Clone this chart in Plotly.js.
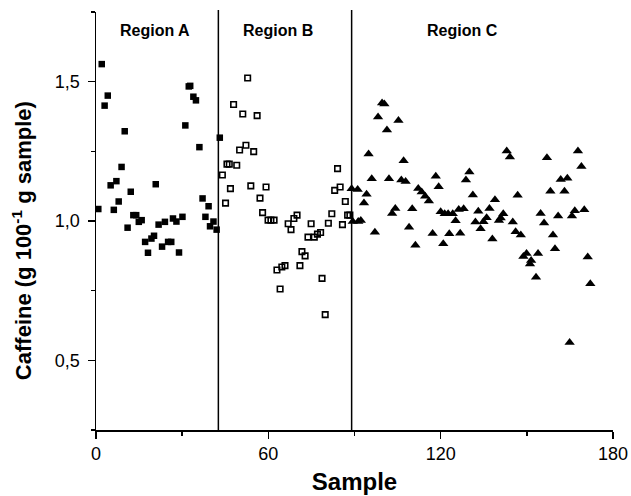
<!DOCTYPE html>
<html>
<head>
<meta charset="utf-8">
<script src="https://cdn.plot.ly/plotly-3.0.1.min.js"></script>
<style>html,body{margin:0;padding:0;background:#fff;}#chart{width:631px;height:496px;}</style>
</head>
<body>
<div id="chart"></div>
<script>
// Region A (filled squares)
const regionA_x = [0.8, 2.0, 3.0, 4.1, 5.1, 6.2, 7.1, 7.9, 8.9, 10.0, 11.0, 12.1, 13.0, 14.0, 14.9, 15.9, 17.1, 18.1, 19.3, 20.2, 20.8, 21.8, 23.0, 24.0, 25.1, 26.2, 26.8, 28.0, 28.9, 30.1, 31.1, 32.3, 32.8, 33.9, 34.8, 36.0, 37.1, 38.1, 39.2, 39.7, 40.9, 42.0, 43.1];
const regionA_y = [1.043, 1.563, 1.414, 1.450, 1.128, 1.040, 1.143, 1.070, 1.194, 1.322, 0.976, 1.105, 1.021, 1.021, 0.997, 1.003, 0.925, 0.886, 0.937, 0.947, 1.132, 0.987, 0.908, 0.997, 0.925, 0.925, 1.009, 0.998, 0.887, 1.015, 1.343, 1.483, 1.485, 1.446, 1.433, 1.265, 1.081, 1.015, 1.053, 0.981, 0.998, 0.969, 1.299];

// Region B (open squares)
const regionB_x = [44.0, 45.1, 45.6, 46.4, 46.8, 47.9, 49.0, 50.0, 51.1, 52.2, 52.8, 53.9, 54.9, 56.1, 57.1, 58.0, 59.2, 59.9, 60.9, 62.0, 63.0, 64.1, 64.7, 65.8, 66.9, 67.9, 68.9, 70.0, 71.0, 71.7, 72.8, 73.8, 74.9, 76.0, 77.1, 78.2, 78.7, 79.8, 80.9, 82.1, 83.1, 84.1, 85.0, 85.8, 86.8, 87.6, 88.4];
const regionB_y = [1.165, 1.064, 1.204, 1.204, 1.116, 1.418, 1.200, 1.255, 1.384, 1.272, 1.513, 1.126, 1.249, 1.378, 1.082, 1.030, 1.122, 1.003, 1.003, 1.003, 0.824, 0.756, 0.835, 0.840, 0.990, 0.969, 1.009, 1.021, 0.840, 0.890, 0.875, 0.942, 0.990, 0.942, 0.953, 0.959, 0.794, 0.664, 0.992, 1.026, 1.110, 1.188, 1.122, 0.987, 1.070, 1.021, 1.021];

// Region C (filled triangles)
const regionC_x = [89.0, 89.4, 91.1, 91.3, 92.2, 93.3, 94.2, 94.9, 96.0, 97.1, 98.2, 99.6, 100.4, 101.3, 102.0, 103.1, 104.2, 105.3, 106.3, 107.1, 107.8, 109.0, 110.1, 111.2, 112.2, 113.4, 114.6, 115.9, 117.2, 118.3, 119.3, 120.0, 120.9, 121.4, 122.6, 123.0, 124.2, 125.2, 126.3, 126.8, 128.0, 128.8, 130.0, 131.2, 132.1, 133.1, 133.9, 134.9, 136.0, 137.0, 138.0, 138.9, 140.3, 140.9, 141.8, 143.0, 144.1, 145.1, 146.1, 146.8, 147.9, 148.8, 149.9, 151.1, 151.5, 153.2, 153.9, 154.8, 156.0, 157.0, 158.2, 159.1, 159.8, 160.9, 161.8, 163.1, 164.1, 164.9, 165.7, 166.7, 167.8, 169.0, 170.0, 171.2, 172.1];
const regionC_y = [1.116, 0.998, 1.113, 0.998, 1.002, 1.065, 1.096, 1.240, 1.152, 0.960, 1.373, 1.423, 1.420, 1.327, 1.152, 1.027, 1.045, 1.361, 1.147, 1.216, 1.142, 0.978, 1.044, 0.913, 1.117, 1.104, 1.089, 1.072, 0.955, 1.161, 1.123, 1.033, 0.918, 1.026, 1.026, 0.954, 1.026, 1.001, 1.041, 0.956, 1.044, 1.147, 1.176, 1.093, 0.996, 1.035, 0.972, 0.997, 1.012, 1.045, 0.935, 1.076, 1.002, 1.011, 1.026, 1.251, 1.230, 0.996, 0.961, 1.092, 0.950, 0.873, 0.883, 0.846, 0.858, 0.798, 0.883, 1.027, 0.993, 1.227, 1.107, 0.950, 0.900, 1.018, 1.149, 1.107, 1.153, 0.564, 1.018, 1.037, 1.251, 1.196, 1.040, 0.871, 0.775];

const boundaries = [42.6, 89.0];
const regionLabels = ["Region A", "Region B", "Region C"];
const regionLabelX = [20.5, 63.5, 127.5];

const xTickVals = [0, 60, 120, 180];
const xTickText = ["0", "60", "120", "180"];
const yTickVals = [0.5, 1.0, 1.5];
const yTickText = ["0,5", "1,0", "1,5"];

const fontFam = "Liberation Sans, Arial, sans-serif";

const traces = [
  {x: regionA_x, y: regionA_y, type: "scatter", mode: "markers", name: "Region A",
   marker: {symbol: "square", size: 6.5, color: "#000"}},
  {x: regionB_x, y: regionB_y, type: "scatter", mode: "markers", name: "Region B",
   marker: {symbol: "square-open", size: 5.5, color: "#000", line: {width: 1.6, color: "#000"}}},
  {x: regionC_x, y: regionC_y, type: "scatter", mode: "markers", name: "Region C",
   marker: {symbol: "triangle-up", size: 9, color: "#000"}}
];

const shapes = boundaries.map(b => ({
  type: "line", xref: "x", yref: "paper", x0: b, x1: b, y0: 0, y1: 1.005,
  line: {color: "#000", width: 1.5}
}));

const annotations = regionLabels.map((t, i) => ({
  text: "<b>" + t + "</b>", x: regionLabelX[i], xref: "x", y: 0.955, yref: "paper",
  xanchor: "center", yanchor: "middle",
  showarrow: false, font: {family: fontFam, size: 16, color: "#000"}
}));
annotations.push({
  text: "<b>Caffeine (g 100<sup>-1</sup> g sample)</b>",
  xref: "paper", yref: "paper", x: -0.143, y: 0.452,
  xanchor: "center", yanchor: "middle", textangle: -90,
  showarrow: false, font: {family: fontFam, size: 22, color: "#000"}
});

const layout = {
  width: 631, height: 496,
  margin: {l: 96, r: 18, t: 12, b: 66},
  paper_bgcolor: "#fff", plot_bgcolor: "#fff",
  showlegend: false,
  separators: ",.",
  font: {family: fontFam, color: "#000"},
  xaxis: {
    range: [0, 180], showgrid: false, zeroline: false,
    showline: true, linecolor: "#000", linewidth: 1.5, mirror: false,
    ticks: "outside", ticklen: 7, tickwidth: 1.5, tickcolor: "#000",
    tickvals: xTickVals, ticktext: xTickText,
    tickfont: {family: fontFam, size: 18, color: "#000"},
    minor: {dtick: 30, tick0: 0, ticks: "outside", ticklen: 4, tickwidth: 1.5, tickcolor: "#000", showgrid: false},
    title: {text: "<b>Sample</b>", font: {family: fontFam, size: 24, color: "#000"}, standoff: 10},
    automargin: false
  },
  yaxis: {
    range: [0.25, 1.75], showgrid: false, zeroline: false,
    showline: true, linecolor: "#000", linewidth: 1.5, mirror: false,
    ticks: "outside", ticklen: 7, tickwidth: 1.5, tickcolor: "#000",
    tickvals: yTickVals, ticktext: yTickText,
    tickfont: {family: fontFam, size: 18, color: "#000"},
    ticklabelstandoff: 4,
    minor: {dtick: 0.25, tick0: 0.25, ticks: "outside", ticklen: 4, tickwidth: 1.5, tickcolor: "#000", showgrid: false},
    automargin: false
  },
  shapes: shapes,
  annotations: annotations
};

Plotly.newPlot("chart", traces, layout, {displayModeBar: false, staticPlot: true});
</script>
</body>
</html>
